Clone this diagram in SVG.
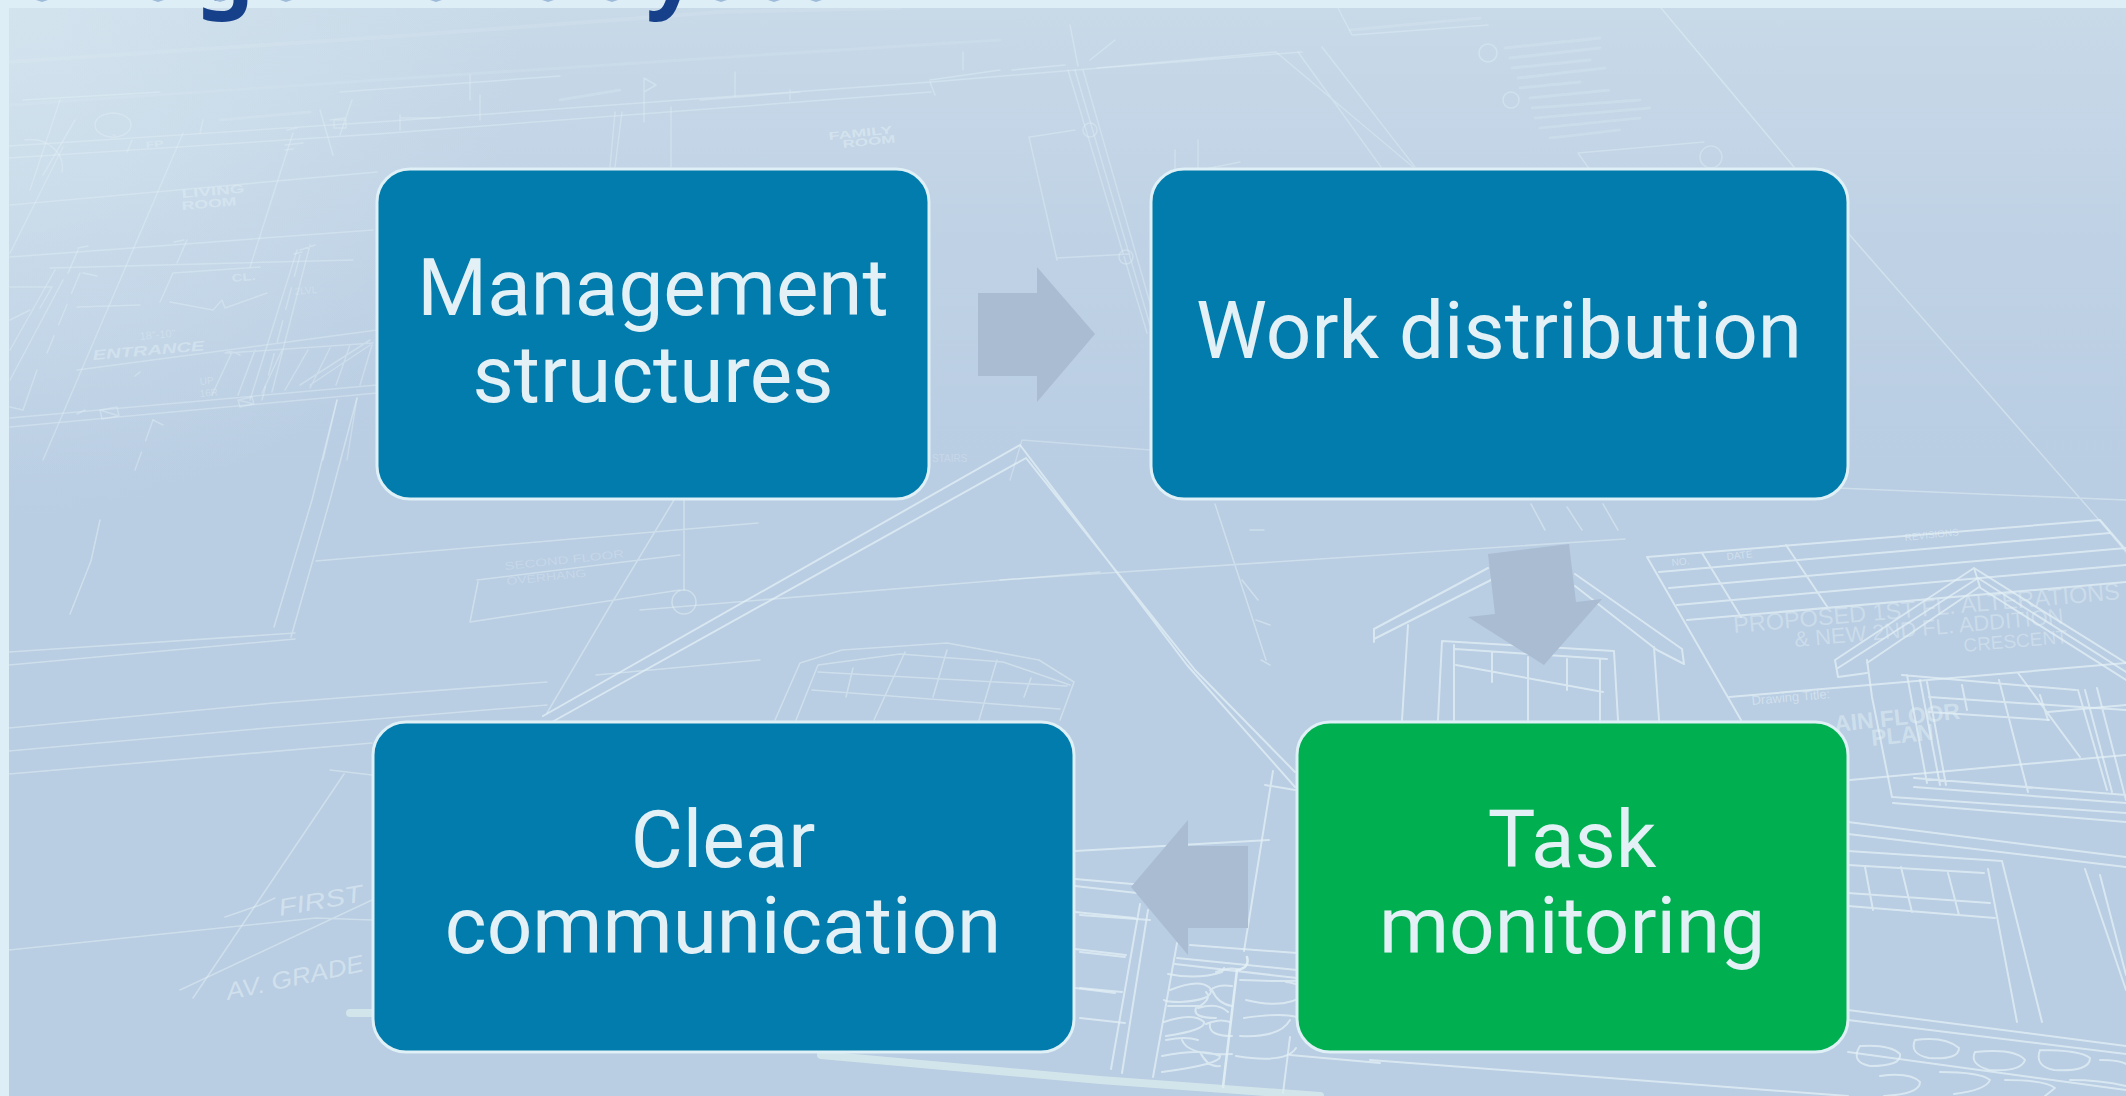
<svg xmlns="http://www.w3.org/2000/svg" width="2126" height="1096" viewBox="0 0 2126 1096">
<style>
.node{stroke:#DFF0F6;stroke-width:3}
.blue{fill:#017CAD}
.green{fill:#00B050}
.lbl{font-family:Roboto,"Liberation Sans",sans-serif;font-size:80px;fill:#E3F1F7;text-anchor:middle}
.arrow{fill:#A9BCD2}
.bp{fill:none;stroke:#E4F1F6;stroke-linecap:round;stroke-linejoin:round}
.f1{stroke-width:1.5;opacity:.38}
.f2{stroke-width:1.6;opacity:.5}
.f3{stroke-width:2;opacity:.72}
.f4{stroke-width:2.6;opacity:.85}
.dash{stroke-dasharray:22 12}
.tiny{stroke-dasharray:7 2;stroke-width:3;opacity:.22}
.bt{font-family:"Liberation Sans",Arial,sans-serif;fill:#E4F1F6}
.bb{font-weight:bold}
.title{font-family:"Noto Sans",sans-serif;font-weight:700;font-size:92px;fill:#17408B}
</style>
<defs>
<linearGradient id="bg" gradientUnits="userSpaceOnUse" x1="0" y1="8" x2="0" y2="480">
<stop offset="0" stop-color="#C8D9E8"/><stop offset=".5" stop-color="#BFD2E5"/><stop offset="1" stop-color="#B9CDE3"/>
</linearGradient>
<radialGradient id="glow" gradientUnits="userSpaceOnUse" cx="9" cy="8" r="520">
<stop offset="0" stop-color="#D8E8F1" stop-opacity=".7"/><stop offset="1" stop-color="#D8E8F1" stop-opacity="0"/>
</radialGradient>
</defs>

<rect width="2126" height="1096" fill="#DDEEF6"/>
<rect x="9" y="8" width="2117" height="1088" fill="url(#bg)"/>
<rect x="9" y="8" width="530" height="530" fill="url(#glow)"/>

<g id="blueprint">
<path class="bp" style="stroke-width:4;opacity:.18" d="M9 62L400 36L720 12L900 8"/>
<path class="bp" style="stroke-width:3;opacity:.14" d="M9 105L378 80L760 55L1000 40"/>
<path class="bp f1" d="M9 146L377 122L931 82L1100 68L1302 52M9 158L377 134L931 92M930 80L1000 70M23 100L160 92M340 92L560 76"/>
<path class="bp f1" d="M43 460L183 133M250 267L293 133M10 253L63 147M250 400L297 250M60 100L30 190M10 350L55 270M75 120L43 175M203 120L200 133M78 250L68 273M187 240L177 263"/>
<path class="bp f1" d="M50 268L353 260M10 257L373 230M77 370L377 330M10 418L377 385M10 427L377 393M77 307L140 305M10 205L377 172M10 287L52 287L40 308M10 320L30 310M63 280L10 380M10 407L23 410L37 370M83 273L97 276M153 420L163 425"/>
<path class="bp f1 dash" d="M80 273L47 353M153 420L135 470M300 255L262 400"/>
<path class="bp f1" d="M160 302L173 273L260 267M170 302L213 310L222 300L225 308L267 293M310 245L272 392M300 250L315 245"/>
<path class="bp f1" d="M227 353L373 343M225 353Q232 350 240 355M212 395L232 352M238 395L255 350M262 393L282 350M285 390L308 350M310 388L330 348M336 385L350 345M360 385L372 345M300 385L370 340M310 385L370 345M337 400L323 460M357 398L347 460"/>
<path class="bp f1" d="M25 140a32 28 0 0 1 37 32M115 135h-2M95 125a18 12 0 1 1 0 .1M340 135L352 100M333 155L320 110M330 120L345 118M644 78V122M644 78L656 85L644 92ZM671 107V167M615 112L610 167M622 112L615 167M735 72V97M963 52V70M930 82L935 95M470 100V75M400 130V115M480 120V95M440 118H400M700 100L800 92M790 100V90"/>
<path class="bp f1" d="M100 410l17-3l2 9l-17 3ZM100 410l19 6M238 400l14-3l2 7l-14 3ZM238 400l16 4M334 120h12v8h-12ZM127 152l5-12M285 145l18-2M78 248l10-2M174 242l10-2M287 130l10-2M285 150l8-1M302 252l-8 2M140 372l-5 4M85 410l-8 4"/>
<path class="bp f1" d="M1068 70L1147 333M1083 70L1154 317M1075 70L1150 325M1070 25L1078 66M1097 68L1276 52M1276 52L1413 167M1298 52L1381 167M1322 47L1415 167M1029 137L1057 260M1057 258L1130 254M1030 137L1075 130M1175 150V170M1198 140V170M1200 170L1240 162M1090 60L1115 40M1012 70L1065 65"/>
<circle class="bp f1" cx="1090" cy="130" r="7"/><circle class="bp f1" cx="1126" cy="257" r="7"/>
<path class="bp f1" d="M1338 8L1352 35L1488 25M1022 440L1151 450M1022 440L1010 480"/>
<path class="bp f1" d="M1578 153L1704 142M1578 153L1590 170"/>
<circle class="bp f1" cx="1488" cy="53" r="9"/><circle class="bp f1" cx="1511" cy="100" r="8"/><circle class="bp f1" cx="1711" cy="157" r="11"/>
<path class="bp tiny" d="M1505 48L1600 38M1510 58L1600 48M1512 68L1590 60M1518 78L1605 68M1520 88L1580 82M1530 98L1610 90M1532 108L1640 100M1535 118L1650 108M1540 128L1640 118M1550 138L1620 130M1350 30L1480 18M560 100L620 90M220 120L310 112"/>
<path class="bp f2" d="M1661 8L1794 167M1848 233L2099 520L2126 552M1837 488L2126 500"/>
<path class="bp f2" d="M9 652L295 633M9 665L295 639M274 627L312 500M291 637L330 500M312 500L337 400M330 500L357 398M9 728L274 703L547 682M596 675L760 660M9 751L267 728L547 705M9 774L372 743M316 561L758 523M477 580L680 555M193 998L344 774M330 770L372 775M91 561L70 614M100 520L91 561M680 590L470 622M478 582L470 622M674 500L610 606L547 713M684 500V590M640 610L1100 572M725 420L820 415"/>
<path class="bp f2" d="M9 950L77 943L316 918L372 920M225 917L260 905L275 898M180 990L372 900M396 1005L372 1010"/>
<circle class="bp f2" cx="684" cy="602" r="12"/>
<path class="bp f3" d="M543 716L1020 445L1187 665L1295 787M552 722L1026 458L1195 670L1295 772M1273 771L1244 951M1265 785L1295 790"/>
<path class="bp f2" d="M775 720L800 663L842 650L947 643L1039 660L1074 682L1060 720M796 720L818 665L900 654L1003 662L1070 685M818 672L1067 686M812 690L1060 709M905 652L874 720M947 650L933 697M997 660L979 720M853 668L846 697M1031 678L1024 697"/>
<path class="bp f2" d="M1000 580L1625 539M1215 504L1266 660M1250 530L1264 530M1242 580L1258 600M1256 620L1270 625M1261 660L1270 665M1531 504L1545 530M1567 507L1582 530M1603 504L1618 530"/>
<path class="bp f3" d="M1374 629L1488 568M1374 639L1495 578M1575 574L1682 649M1575 586L1657 650M1374 629V642M1682 649L1684 664M1657 650L1684 664M1408 625L1402 720M1654 647L1659 720M1442 641L1614 651M1442 641L1438 720M1614 651L1618 720M1455 649L1607 659M1456 665L1603 692M1492 652L1492 682M1528 657V720M1567 659V690M1600 659V720M1454 645V720"/>
<path class="bp f3" d="M1647 557L2100 520M1647 557L1741 720M1687 620L2126 582M1659 572L2110 533M1669 588L2126 548M1677 605L2126 565M1729 697L2126 663M1850 780L2126 755M1702 553L1741 617M1786 545L1828 608M2100 520L2126 550M2018 673L2080 757M2040 695L2048 720M2048 712L2126 705"/>
<path class="bp f3" d="M1835 660L1974 568L2126 663M1838 668L1978 578L2126 672M1867 663L1979 587L2126 680M1974 568L1980 587M1835 660L1838 677L1867 673M1867 660L1872 697L1892 797L2126 813M1893 803L2126 822M1914 778L2126 795M1914 787L2126 803M1902 675L2076 690M1907 675L1927 783M1920 680L1940 785M1927 682L1946 785M1999 680L2028 792M1962 685L1967 710M2078 690L2107 790M2085 690L2112 792M2097 688L2126 800M1929 697L2126 710M1929 712L2049 720"/>
<path class="bp f3" d="M1848 822L2126 857M1848 834L2126 867M1848 851L2002 861M2002 861L2042 1022M1988 869L2017 1022M1848 865L1984 873M1848 906L1995 918M1848 893L1990 903M1865 867L1873 910M1901 867L1912 912M1948 873L1959 915M2085 869L2126 990M2100 875L2126 975"/>
<path class="bp f3" d="M1848 1010L2126 1046M1848 1020L2126 1054M1848 1052L2126 1090M1075 851L1269 840M1075 879L1144 885M1075 886L1137 893M1075 912L1135 918M1075 949L1126 955M1075 988L1115 993M1140 904L1111 1069M1148 910L1122 1073"/>
<path class="bp f3" d="M1080 915L1150 920M1080 952L1125 957M1080 988L1122 992M1080 1018L1125 1023M1177 943L1153 1077M1190 945L1297 953M1177 958L1297 970M1175 964L1297 978M1290 1037L1283 1093M1290 1055L1380 1063M1370 1060L1848 1096"/>
<path class="bp f4" d="M1247 957Q1250 968 1237 970L1223 1087"/>
<g class="bp f3">
<path d="M1168 974q30 6 54-2l2-4M1216 972q15-6 24-2M1170 990q30-12 40-2q6 12-30 14q-14 0-16-2M1210 990q8-6 22-4M1212 990q6 14 20 16M1168 1006h32q12-8 6-14M1198 1008q20-6 30 4M1196 1008q-4 10 20 10M1164 1022q30-10 40 0q2 8-38 14M1206 1024q14-6 24-2M1210 1024q-2 12 22 12M1166 1040q20-4 32 0M1182 1040q6 16 50 14M1162 1056q40-8 58 0q2 8-58 16M1200 1052q8 16 20 14M1240 980q50 2 66 0M1246 1000q40 10 60-6q-2-10-20-12M1244 1018q40-6 56 0M1240 1036q40 2 50-16M1236 1056q50 8 60-8"/>
<path d="M1860 1046q30-2 40 8q2 12-30 12q-20-4-10-20M1915 1040q30-4 44 8q0 12-30 10q-20-4-14-18M1975 1052q40-4 50 8q-4 12-36 10q-20-6-14-18M2040 1050q40 0 50 8q0 14-36 12q-20-4-14-20M2100 1060q20 0 26 4M1880 1076q30-4 40 6q0 12-36 14M1940 1072q40 0 50 8q-4 10-36 14M2005 1080q40 0 50 8l-10 8M2070 1080q30 0 56 6"/>
</g>
<path class="bp" style="stroke:#DDF0EE;stroke-width:8;opacity:.7" d="M350 1013H372M821 1055L1100 1080L1320 1096"/>

<g class="bt">
<text class="bb" font-size="12" opacity=".45" textLength="63" lengthAdjust="spacingAndGlyphs" transform="translate(182 198) rotate(-5)">LIVING</text>
<text class="bb" font-size="12" opacity=".45" textLength="55" lengthAdjust="spacingAndGlyphs" transform="translate(182 210) rotate(-5)">ROOM</text>
<text class="bb" font-size="14" font-style="italic" opacity=".45" textLength="112" lengthAdjust="spacingAndGlyphs" transform="translate(93 360) rotate(-5)">ENTRANCE</text>
<text class="bb" font-size="11" opacity=".5" textLength="64" lengthAdjust="spacingAndGlyphs" transform="translate(829 140) rotate(-6)">FAMILY</text>
<text class="bb" font-size="11" opacity=".5" textLength="53" lengthAdjust="spacingAndGlyphs" transform="translate(843 148) rotate(-6)">ROOM</text>
<text class="bb" font-size="11" opacity=".4" textLength="24" lengthAdjust="spacingAndGlyphs" transform="translate(232 282) rotate(-5)">CL.</text>
<text class="bb" font-size="9" opacity=".4" textLength="18" lengthAdjust="spacingAndGlyphs" transform="translate(146 148) rotate(-5)">FP</text>
<text font-size="10" opacity=".35" transform="translate(200 385) rotate(-5)">UP</text>
<text font-size="10" opacity=".35" transform="translate(200 397) rotate(-5)">16R</text>
<text font-size="11" opacity=".35" transform="translate(140 340) rotate(-5)">18"-10"</text>
<text font-size="10" opacity=".35" transform="translate(295 295) rotate(-5)">2LVL</text>
<text font-size="11" opacity=".3" textLength="120" lengthAdjust="spacingAndGlyphs" transform="translate(505 570) rotate(-6)">SECOND FLOOR</text>
<text font-size="11" opacity=".3" textLength="80" lengthAdjust="spacingAndGlyphs" transform="translate(507 585) rotate(-6)">OVERHANG</text>
<text font-size="10" opacity=".3" transform="translate(932 462)">STAIRS</text>
<text font-size="24" font-style="italic" opacity=".55" textLength="85" lengthAdjust="spacingAndGlyphs" transform="translate(280 916) rotate(-10)">FIRST</text>
<text font-size="24" font-style="italic" opacity=".55" textLength="140" lengthAdjust="spacingAndGlyphs" transform="translate(228 1000) rotate(-12)">AV. GRADE</text>
<text font-size="10" opacity=".55" transform="translate(1672 566) rotate(-6)">NO.</text>
<text font-size="10" opacity=".55" transform="translate(1727 560) rotate(-6)">DATE</text>
<text font-size="10" opacity=".55" transform="translate(1905 541) rotate(-6)">REVISIONS</text>
<text font-size="23.5" opacity=".42" transform="translate(1734 633) rotate(-5)">PROPOSED 1ST FL. ALTERATIONS</text>
<text font-size="22" opacity=".42" transform="translate(1795 647) rotate(-5)">&amp; NEW 2ND FL. ADDITION</text>
<text font-size="19" opacity=".42" transform="translate(1964 652) rotate(-5)">CRESCENT</text>
<text font-size="13" opacity=".55" transform="translate(1752 705) rotate(-5)">Drawing Title:</text>
<text class="bb" font-size="23" opacity=".5" transform="translate(1835 732) rotate(-6)">AIN FLOOR</text>
<text class="bb" font-size="23" opacity=".5" transform="translate(1872 746) rotate(-6)">PLAN</text>
</g>
</g>

<g id="title-fragment">
<text class="title" x="196" y="0">g</text>
<text class="title" x="646" y="0">y</text>
<path fill="#9DBBD9" d="M36 0h12l-6 2ZM152 0h12l-6 2ZM214 0h12l-6 2ZM280 0h12l-6 2ZM430 0h12l-6 2ZM542 0h12l-6 2ZM606 0h12l-6 2ZM715 0h12l-6 2ZM768 0h12l-6 2ZM810 0h12l-6 2Z"/>
</g>

<g id="connectors">
<polygon id="arrow-1-2" class="arrow" points="978,293 1037,293 1037,267 1095,334 1037,402 1037,376 978,376"/>
<polygon id="arrow-2-3" class="arrow" points="1488,554 1569,544 1576,602 1602,599 1544,665 1468,617 1495,614"/>
<polygon id="arrow-3-4" class="arrow" points="1248,846 1188,846 1188,820 1131,887 1188,955 1188,928 1248,928"/>
</g>

<g id="node-management">
<rect class="node blue" x="377" y="169" width="552" height="330" rx="33"/>
<text class="lbl" x="653" y="315">Management</text>
<text class="lbl" x="653" y="402">structures</text>
</g>
<g id="node-work">
<rect class="node blue" x="1151" y="169" width="697" height="330" rx="33"/>
<text class="lbl" x="1499" y="358">Work distribution</text>
</g>
<g id="node-task">
<rect class="node green" x="1297" y="722" width="551" height="330" rx="33"/>
<text class="lbl" x="1572" y="867">Task</text>
<text class="lbl" x="1572" y="953">monitoring</text>
</g>
<g id="node-clear">
<rect class="node blue" x="373" y="722" width="701" height="330" rx="33"/>
<text class="lbl" x="723" y="867">Clear</text>
<text class="lbl" x="723" y="953">communication</text>
</g>
</svg>
